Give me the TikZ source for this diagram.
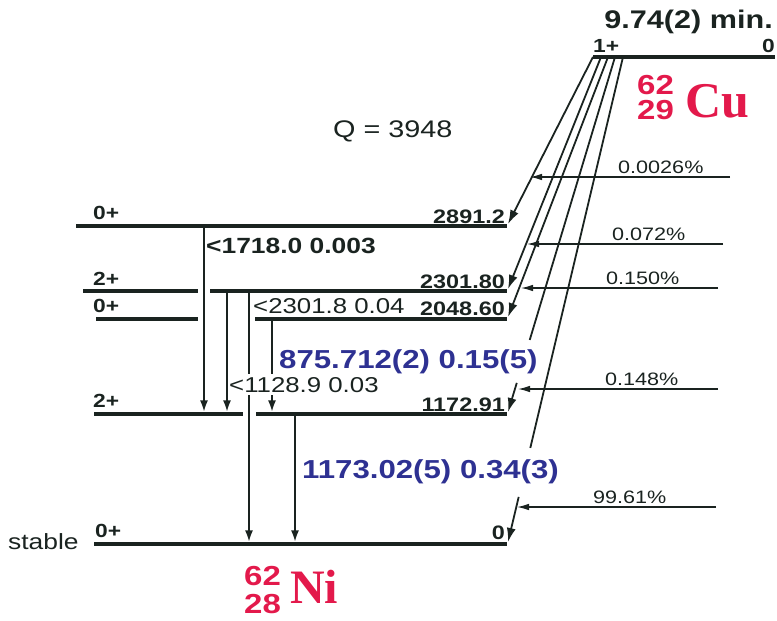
\documentclass[tikz,border=0pt]{standalone}
\usepackage{fontspec}
\setmainfont{Liberation Sans}[FakeStretch=1.2]
\newfontfamily\elemfont{Liberation Serif}
\usetikzlibrary{arrows.meta,calc}
\definecolor{levelink}{HTML}{1A2320}
\definecolor{nuclidered}{HTML}{E3194B}
\definecolor{gammablue}{HTML}{2E3192}
\newcommand{\fsz}[1]{\fontsize{#1}{#1}\selectfont}

\begin{document}
\begin{tikzpicture}[
  x=1pt,
  y=-1pt,
  line cap=butt,
  level/.style={draw=levelink,line width=3.3pt},
  ground/.style={draw=levelink,line width=3.7pt},
  gamma/.style={draw=levelink,line width=2.9pt,shorten >=1.6pt,-{Latex[length=12pt,width=8pt]}},
  beta/.style={draw=levelink,line width=1.8pt},
  betatip/.style={beta,-{Latex[length=14pt,width=9pt]}},
  feed/.style={draw=levelink,line width=1.2pt,-{Latex[length=12pt,width=6.5pt]}},
  txt/.style={inner sep=0pt,anchor=base west,text=levelink},
  spin/.style={txt,font=\fsz{19}\bfseries},
  energy/.style={inner sep=0pt,anchor=base east,text=levelink,font=\fsz{19.5}\bfseries},
  glabel/.style={txt,font=\fsz{21.5}},
  bluelabel/.style={txt,text=gammablue,font=\fsz{26}\bfseries},
  pct/.style={txt,font=\fsz{18}},
  massno/.style={inner sep=0pt,anchor=base west,text=nuclidered,font=\fsz{27.5}\bfseries},
  elem/.style={inner sep=0pt,anchor=base west,text=nuclidered,font=\elemfont\bfseries\fsz{50}}
]
  \useasboundingbox (0,0) rectangle (777,621);

  % Right ends of the daughter levels and the parent level.
  \coordinate (E2891) at (507,226);
  \coordinate (E2302) at (507,291);
  \coordinate (E2049) at (507,319);
  \coordinate (E1173) at (507,414);
  \coordinate (E0)    at (507,544);
  \coordinate (Pw) at (593,57);
  \coordinate (Pe) at (775,57);

  % Parent 62Cu.
  \draw[level] (Pw) -- (Pe);
  \node[spin] at (593,52) {1+};
  \node[spin,anchor=base east] at (775,52) {0};
  \node[txt,anchor=base east,font=\fsz{25.5}\bfseries] (halflife) at (773,28) {9.74(2) min.};
  \node[massno] (cuA) at (637,94) {62};
  \node[massno] (cuZ) at (637,119) {29};
  \node[elem] (cu) at (685,117) {Cu};

  \node[txt,font=\fsz{24}] (qval) at (333,137) {Q = 3948};

  % Daughter levels, broken where the gamma lines pass.
  \draw[level] (76,226) -- (E2891);
  \draw[level] (83,291) -- (198,291);
  \draw[level] (210,291) -- (E2302);
  \draw[level] (96,319) -- (198,319);
  \draw[level] (255,319) -- (E2049);
  \draw[level] (94,414) -- (243,414);
  \draw[level] (256,414) -- (E1173);
  \draw[ground] (94,544) -- (E0);

  \node[spin] at (93,219) {0+};
  \node[spin] at (93,285) {2+};
  \node[spin] at (93,312) {0+};
  \node[spin] at (93,407) {2+};
  \node[spin] at (95,537) {0+};
  \node[txt,font=\fsz{22}] (stable) at (8,549) {stable};

  \node[energy] at ($(E2891)+(-2,-3)$) {2891.2};
  \node[energy] at ($(E2302)+(-2,-3)$) {2301.80};
  \node[energy] at ($(E2049)+(-2,-4)$) {2048.60};
  \node[energy] at ($(E1173)+(-2,-3)$) {1172.91};
  \node[energy] at ($(E0)+(-2,-5)$) {0};

  % Gamma transitions.
  \coordinate (g1718) at (204,0);
  \coordinate (g1129) at (227,0);
  \coordinate (g2302) at (249,0);
  \coordinate (g876)  at (272,0);
  \coordinate (g1173) at (295,0);
  \draw[gamma] (g1718 |- E2891) -- (g1718 |- E1173);
  \draw[gamma] (g1129 |- E2302) -- (g1129 |- E1173);
  \draw[gamma] (g2302 |- E2302) -- (g2302 |- E0);
  \draw[gamma] (g876 |- E2049) -- (g876 |- E1173);
  \draw[gamma] (g1173 |- E1173) -- (g1173 |- E0);

  \node[txt,font=\fsz{22}\bfseries] at (206,253) {<1718.0 0.003};
  \node[glabel] at (253,313) {<2301.8 0.04};
  \node[glabel,fill=white,inner ysep=2.5pt] at (229,392) {<1128.9 0.03};
  \node[bluelabel] at (279,368) {875.712(2) 0.15(5)};
  \node[bluelabel] at (302,478) {1173.02(5) 0.34(3)};

  % Beta branches from the 1+ ground state.
  \coordinate (b1) at (593,57);
  \coordinate (b2) at (601,57);
  \coordinate (b3) at (608,57);
  \coordinate (b4) at (615,57);
  \coordinate (b5) at (623,57);
  \coordinate (t2891) at (508,224);
  \coordinate (t2302) at (508,289);
  \coordinate (t2049) at (508,317);
  \coordinate (t1173) at (508,412);
  \coordinate (t0)    at (508,542);
  \draw[betatip] (b1) -- (t2891);
  \draw[betatip] (b2) -- (t2302);
  \draw[betatip] (b3) -- (t2049);
  \draw[beta] (b4) -- ($(b4)!0.797!(t1173)$);
  \draw[betatip] ($(b4)!0.918!(t1173)$) -- (t1173);
  \draw[beta] (b5) -- ($(b5)!0.806!(t0)$);
  \draw[betatip] ($(b5)!0.907!(t0)$) -- (t0);

  % Branching ratios.
  \foreach \fy/\fr/\ft/\fx/\pc in {177/730/530/618/0.0026\%, 244/723/527/612/0.072\%,
      288/718/521/606/0.150\%, 389/718/518/605/0.148\%, 507/716/517/593/99.61\%} {
    \coordinate (fs) at (\fr,\fy);
    \coordinate (fe) at (\ft,\fy);
    \draw[feed] (fs) -- (fe);
    \node[pct] at (\fx,\fy-3.5) {\pc};
  }

  % Daughter 62Ni.
  \node[massno] (niA) at (244,585) {62};
  \node[massno] (niZ) at (244,613) {28};
  \node[elem,font=\elemfont\bfseries\fsz{48}] (ni) at (290,603) {Ni};
\end{tikzpicture}
\end{document}
